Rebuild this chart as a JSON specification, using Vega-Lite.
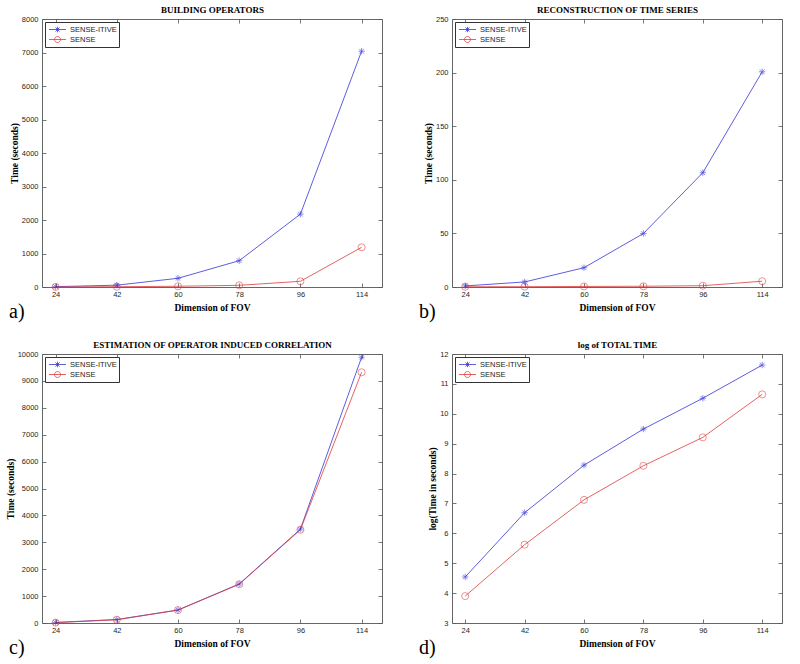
{
  "$schema": "https://vega.github.io/schema/vega-lite/v6.json",
  "autosize": {"type": "none"},
  "padding": {"left": 42, "top": 19, "right": 758, "bottom": 645},
  "background": "white",
  "columns": 2,
  "spacing": {"row": 67, "column": 70},
  "bounds": "flush",
  "resolve": {"scale": {"color": "independent"}, "legend": {"color": "independent"}},
  "concat": [
    {
      "width": 340, "height": 268,
      "title": {"text": "a)"},
      "data": {"values": [
        {"fov": 24, "series": "SENSE-ITIVE", "time": 10},
        {"fov": 42, "series": "SENSE-ITIVE", "time": 55},
        {"fov": 60, "series": "SENSE-ITIVE", "time": 260},
        {"fov": 78, "series": "SENSE-ITIVE", "time": 785},
        {"fov": 96, "series": "SENSE-ITIVE", "time": 2175},
        {"fov": 114, "series": "SENSE-ITIVE", "time": 7040},
        {"fov": 24, "series": "SENSE", "time": 2},
        {"fov": 42, "series": "SENSE", "time": 8},
        {"fov": 60, "series": "SENSE", "time": 22},
        {"fov": 78, "series": "SENSE", "time": 50},
        {"fov": 96, "series": "SENSE", "time": 170},
        {"fov": 114, "series": "SENSE", "time": 1185}
      ]},
      "layer": [
        {
          "mark": {"type": "line", "strokeWidth": 0.8},
          "encoding": {
            "x": {"field": "fov", "type": "quantitative", "scale": {"domain": [20, 120]}, "axis": {"orient": "bottom", "values": [24, 42, 60, 78, 96, 114], "title": "Dimension of FOV"}},
            "y": {"field": "time", "type": "quantitative", "scale": {"domain": [0, 8000]}, "axis": {"orient": "left", "values": [0, 1000, 2000, 3000, 4000, 5000, 6000, 7000, 8000], "title": "Time (seconds)", "format": "d"}},
            "color": {"field": "series", "type": "nominal", "scale": {"domain": ["SENSE-ITIVE", "SENSE"], "range": ["#3434d8", "#e03a3a"]},
              "legend": {"encode": {"symbols": {"update": {"shape": {"signal": "datum.value === 'SENSE' ? 'M-1.7,0L1.7,0M-0.6,0A0.6,0.6,0,1,1,0.6,0A0.6,0.6,0,1,1,-0.6,0' : 'M-1.7,0L1.7,0M0,-0.55L0,0.55M-0.4,-0.4L0.4,0.4M-0.4,0.4L0.4,-0.4'"}, "stroke": {"signal": "datum.value === 'SENSE' ? '#e03a3a' : '#3434d8'"}, "fill": {"value": "transparent"}, "strokeWidth": {"value": 0.8}, "size": {"value": 100}}}}}}
          }
        },
        {
          "mark": {"type": "point", "filled": false, "strokeWidth": 0.8, "size": 50},
          "encoding": {
            "x": {"field": "fov", "type": "quantitative", "scale": {"domain": [20, 120]}, "axis": {"orient": "top", "values": [24, 42, 60, 78, 96, 114], "title": "BUILDING OPERATORS"}},
            "y": {"field": "time", "type": "quantitative", "scale": {"domain": [0, 8000]}, "axis": {"orient": "right", "values": [0, 1000, 2000, 3000, 4000, 5000, 6000, 7000, 8000], "title": null}},
            "color": {"field": "series", "type": "nominal", "scale": {"domain": ["SENSE-ITIVE", "SENSE"], "range": ["#3434d8", "#e03a3a"]}},
            "shape": {"field": "series", "type": "nominal", "scale": {"domain": ["SENSE-ITIVE", "SENSE"], "range": ["M-0.9,0L0.9,0M0,-0.9L0,0.9M-0.65,-0.65L0.65,0.65M-0.65,0.65L0.65,-0.65", "circle"]}, "legend": null}
          }
        }
      ]
    },
    {
      "width": 330, "height": 268,
      "title": {"text": "b)"},
      "data": {"values": [
        {"fov": 24, "series": "SENSE-ITIVE", "time": 1.0},
        {"fov": 42, "series": "SENSE-ITIVE", "time": 4.7},
        {"fov": 60, "series": "SENSE-ITIVE", "time": 18},
        {"fov": 78, "series": "SENSE-ITIVE", "time": 49.9},
        {"fov": 96, "series": "SENSE-ITIVE", "time": 106.6},
        {"fov": 114, "series": "SENSE-ITIVE", "time": 200.8},
        {"fov": 24, "series": "SENSE", "time": 0.2},
        {"fov": 42, "series": "SENSE", "time": 0.3},
        {"fov": 60, "series": "SENSE", "time": 0.5},
        {"fov": 78, "series": "SENSE", "time": 0.7},
        {"fov": 96, "series": "SENSE", "time": 1.2},
        {"fov": 114, "series": "SENSE", "time": 5.4}
      ]},
      "layer": [
        {
          "mark": {"type": "line", "strokeWidth": 0.8},
          "encoding": {
            "x": {"field": "fov", "type": "quantitative", "scale": {"domain": [20, 120]}, "axis": {"orient": "bottom", "values": [24, 42, 60, 78, 96, 114], "title": "Dimension of FOV"}},
            "y": {"field": "time", "type": "quantitative", "scale": {"domain": [0, 250]}, "axis": {"orient": "left", "values": [0, 50, 100, 150, 200, 250], "title": "Time (seconds)", "format": "d"}},
            "color": {"field": "series", "type": "nominal", "scale": {"domain": ["SENSE-ITIVE", "SENSE"], "range": ["#3434d8", "#e03a3a"]},
              "legend": {"encode": {"symbols": {"update": {"shape": {"signal": "datum.value === 'SENSE' ? 'M-1.7,0L1.7,0M-0.6,0A0.6,0.6,0,1,1,0.6,0A0.6,0.6,0,1,1,-0.6,0' : 'M-1.7,0L1.7,0M0,-0.55L0,0.55M-0.4,-0.4L0.4,0.4M-0.4,0.4L0.4,-0.4'"}, "stroke": {"signal": "datum.value === 'SENSE' ? '#e03a3a' : '#3434d8'"}, "fill": {"value": "transparent"}, "strokeWidth": {"value": 0.8}, "size": {"value": 100}}}}}}
          }
        },
        {
          "mark": {"type": "point", "filled": false, "strokeWidth": 0.8, "size": 50},
          "encoding": {
            "x": {"field": "fov", "type": "quantitative", "scale": {"domain": [20, 120]}, "axis": {"orient": "top", "values": [24, 42, 60, 78, 96, 114], "title": "RECONSTRUCTION OF TIME SERIES"}},
            "y": {"field": "time", "type": "quantitative", "scale": {"domain": [0, 250]}, "axis": {"orient": "right", "values": [0, 50, 100, 150, 200, 250], "title": null}},
            "color": {"field": "series", "type": "nominal", "scale": {"domain": ["SENSE-ITIVE", "SENSE"], "range": ["#3434d8", "#e03a3a"]}},
            "shape": {"field": "series", "type": "nominal", "scale": {"domain": ["SENSE-ITIVE", "SENSE"], "range": ["M-0.9,0L0.9,0M0,-0.9L0,0.9M-0.65,-0.65L0.65,0.65M-0.65,0.65L0.65,-0.65", "circle"]}, "legend": null}
          }
        }
      ]
    },
    {
      "width": 340, "height": 269,
      "title": {"text": "c)"},
      "data": {"values": [
        {"fov": 24, "series": "SENSE-ITIVE", "time": 20},
        {"fov": 42, "series": "SENSE-ITIVE", "time": 130},
        {"fov": 60, "series": "SENSE-ITIVE", "time": 483},
        {"fov": 78, "series": "SENSE-ITIVE", "time": 1450},
        {"fov": 96, "series": "SENSE-ITIVE", "time": 3490},
        {"fov": 114, "series": "SENSE-ITIVE", "time": 9880},
        {"fov": 24, "series": "SENSE", "time": 15},
        {"fov": 42, "series": "SENSE", "time": 120},
        {"fov": 60, "series": "SENSE", "time": 480},
        {"fov": 78, "series": "SENSE", "time": 1440},
        {"fov": 96, "series": "SENSE", "time": 3465},
        {"fov": 114, "series": "SENSE", "time": 9320}
      ]},
      "layer": [
        {
          "mark": {"type": "line", "strokeWidth": 0.8},
          "encoding": {
            "x": {"field": "fov", "type": "quantitative", "scale": {"domain": [20, 120]}, "axis": {"orient": "bottom", "values": [24, 42, 60, 78, 96, 114], "title": "Dimension of FOV"}},
            "y": {"field": "time", "type": "quantitative", "scale": {"domain": [0, 10000]}, "axis": {"orient": "left", "values": [0, 1000, 2000, 3000, 4000, 5000, 6000, 7000, 8000, 9000, 10000], "title": "Time (seconds)", "format": "d"}},
            "color": {"field": "series", "type": "nominal", "scale": {"domain": ["SENSE-ITIVE", "SENSE"], "range": ["#3434d8", "#e03a3a"]},
              "legend": {"encode": {"symbols": {"update": {"shape": {"signal": "datum.value === 'SENSE' ? 'M-1.7,0L1.7,0M-0.6,0A0.6,0.6,0,1,1,0.6,0A0.6,0.6,0,1,1,-0.6,0' : 'M-1.7,0L1.7,0M0,-0.55L0,0.55M-0.4,-0.4L0.4,0.4M-0.4,0.4L0.4,-0.4'"}, "stroke": {"signal": "datum.value === 'SENSE' ? '#e03a3a' : '#3434d8'"}, "fill": {"value": "transparent"}, "strokeWidth": {"value": 0.8}, "size": {"value": 100}}}}}}
          }
        },
        {
          "mark": {"type": "point", "filled": false, "strokeWidth": 0.8, "size": 50},
          "encoding": {
            "x": {"field": "fov", "type": "quantitative", "scale": {"domain": [20, 120]}, "axis": {"orient": "top", "values": [24, 42, 60, 78, 96, 114], "title": "ESTIMATION OF OPERATOR INDUCED CORRELATION"}},
            "y": {"field": "time", "type": "quantitative", "scale": {"domain": [0, 10000]}, "axis": {"orient": "right", "values": [0, 1000, 2000, 3000, 4000, 5000, 6000, 7000, 8000, 9000, 10000], "title": null}},
            "color": {"field": "series", "type": "nominal", "scale": {"domain": ["SENSE-ITIVE", "SENSE"], "range": ["#3434d8", "#e03a3a"]}},
            "shape": {"field": "series", "type": "nominal", "scale": {"domain": ["SENSE-ITIVE", "SENSE"], "range": ["M-0.9,0L0.9,0M0,-0.9L0,0.9M-0.65,-0.65L0.65,0.65M-0.65,0.65L0.65,-0.65", "circle"]}, "legend": null}
          }
        }
      ]
    },
    {
      "width": 330, "height": 269,
      "title": {"text": "d)"},
      "data": {"values": [
        {"fov": 24, "series": "SENSE-ITIVE", "time": 4.54},
        {"fov": 42, "series": "SENSE-ITIVE", "time": 6.69},
        {"fov": 60, "series": "SENSE-ITIVE", "time": 8.28},
        {"fov": 78, "series": "SENSE-ITIVE", "time": 9.49},
        {"fov": 96, "series": "SENSE-ITIVE", "time": 10.52},
        {"fov": 114, "series": "SENSE-ITIVE", "time": 11.63},
        {"fov": 24, "series": "SENSE", "time": 3.9},
        {"fov": 42, "series": "SENSE", "time": 5.62},
        {"fov": 60, "series": "SENSE", "time": 7.12},
        {"fov": 78, "series": "SENSE", "time": 8.26},
        {"fov": 96, "series": "SENSE", "time": 9.21},
        {"fov": 114, "series": "SENSE", "time": 10.65}
      ]},
      "layer": [
        {
          "mark": {"type": "line", "strokeWidth": 0.8},
          "encoding": {
            "x": {"field": "fov", "type": "quantitative", "scale": {"domain": [20, 120]}, "axis": {"orient": "bottom", "values": [24, 42, 60, 78, 96, 114], "title": "Dimension of FOV"}},
            "y": {"field": "time", "type": "quantitative", "scale": {"domain": [3, 12]}, "axis": {"orient": "left", "values": [3, 4, 5, 6, 7, 8, 9, 10, 11, 12], "title": "log(Time in seconds)", "format": "d"}},
            "color": {"field": "series", "type": "nominal", "scale": {"domain": ["SENSE-ITIVE", "SENSE"], "range": ["#3434d8", "#e03a3a"]},
              "legend": {"encode": {"symbols": {"update": {"shape": {"signal": "datum.value === 'SENSE' ? 'M-1.7,0L1.7,0M-0.6,0A0.6,0.6,0,1,1,0.6,0A0.6,0.6,0,1,1,-0.6,0' : 'M-1.7,0L1.7,0M0,-0.55L0,0.55M-0.4,-0.4L0.4,0.4M-0.4,0.4L0.4,-0.4'"}, "stroke": {"signal": "datum.value === 'SENSE' ? '#e03a3a' : '#3434d8'"}, "fill": {"value": "transparent"}, "strokeWidth": {"value": 0.8}, "size": {"value": 100}}}}}}
          }
        },
        {
          "mark": {"type": "point", "filled": false, "strokeWidth": 0.8, "size": 50},
          "encoding": {
            "x": {"field": "fov", "type": "quantitative", "scale": {"domain": [20, 120]}, "axis": {"orient": "top", "values": [24, 42, 60, 78, 96, 114], "title": "log of TOTAL TIME"}},
            "y": {"field": "time", "type": "quantitative", "scale": {"domain": [3, 12]}, "axis": {"orient": "right", "values": [3, 4, 5, 6, 7, 8, 9, 10, 11, 12], "title": null}},
            "color": {"field": "series", "type": "nominal", "scale": {"domain": ["SENSE-ITIVE", "SENSE"], "range": ["#3434d8", "#e03a3a"]}},
            "shape": {"field": "series", "type": "nominal", "scale": {"domain": ["SENSE-ITIVE", "SENSE"], "range": ["M-0.9,0L0.9,0M0,-0.9L0,0.9M-0.65,-0.65L0.65,0.65M-0.65,0.65L0.65,-0.65", "circle"]}, "legend": null}
          }
        }
      ]
    }
  ],
  "config": {
    "view": {"stroke": "#666", "strokeWidth": 1},
    "font": "Liberation Sans",
    "axis": {"grid": false, "domain": false, "tickSize": -4, "tickColor": "#555", "tickWidth": 0.8, "labelFont": "Liberation Sans", "labelFontSize": 7.5, "labelColor": "#262626", "titleFont": "Liberation Serif", "titleFontSize": 9.5, "titleFontWeight": "bold", "titleColor": "#000"},
    "axisBottom": {"labelPadding": 7, "titlePadding": 5},
    "axisLeft": {"labelPadding": 8, "titlePadding": 2},
    "axisTop": {"labels": false, "titlePadding": 4, "titleFontSize": 9},
    "axisRight": {"labels": false},
    "legend": {
      "title": null, "orient": "top-left", "offset": 3, "padding": 2,
      "strokeColor": "#333", "fillColor": "white",
      "labelFont": "Liberation Sans", "labelFontSize": 7.5, "labelColor": "#222",
      "symbolSize": 100, "symbolStrokeWidth": 0.8, "symbolOffset": 5, "labelOffset": 7, "rowPadding": 0,
      "labelExpr": "datum.label + '\u00a0\u00a0\u00a0\u00a0\u00a0'"
    },
    "title": {"orient": "bottom", "anchor": "start", "frame": "group", "font": "Liberation Serif", "fontSize": 20, "fontWeight": "normal", "color": "#000", "dx": -33, "offset": -10}
  }
}
